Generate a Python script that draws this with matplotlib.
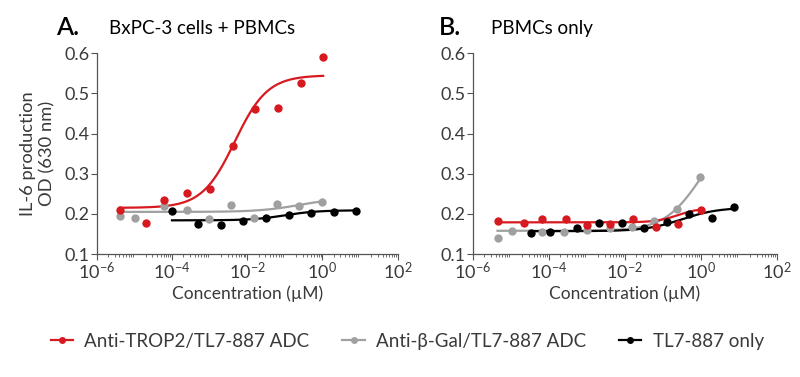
import numpy as np
import matplotlib
matplotlib.use("Agg")
import matplotlib.pyplot as plt
from matplotlib.ticker import LogLocator, FixedLocator, NullFormatter
from matplotlib.lines import Line2D

plt.rcParams['font.family'] = ['Lato', 'DejaVu Sans']
plt.rcParams['mathtext.fontset'] = 'custom'
plt.rcParams['mathtext.rm'] = 'Lato'
plt.rcParams['mathtext.it'] = 'Lato:italic'
plt.rcParams['mathtext.bf'] = 'Lato:bold'

# ---------------- data (log10 concentration in µM, OD 630 nm) ----------------
series_names = ["Anti-TROP2/TL7-887 ADC", "Anti-β-Gal/TL7-887 ADC", "TL7-887 only"]
series_colors = ["#d71920", "#a0a0a0", "#000000"]

# Panel A: BxPC-3 cells + PBMCs
a_red_logc = [-5.39, -4.70, -4.21, -3.59, -2.98, -2.37, -1.79, -1.18, -0.58, 0.02]
a_red_od = [0.209, 0.178, 0.234, 0.251, 0.262, 0.369, 0.461, 0.464, 0.525, 0.591]
a_gray_logc = [-5.39, -4.99, -4.21, -3.61, -3.02, -2.42, -1.82, -1.22, -0.62, -0.02]
a_gray_od = [0.196, 0.190, 0.220, 0.209, 0.188, 0.223, 0.190, 0.224, 0.219, 0.230]
a_black_logc = [-4.00, -3.31, -2.70, -2.10, -1.51, -0.90, -0.31, 0.30, 0.905]
a_black_od = [0.207, 0.176, 0.173, 0.182, 0.189, 0.197, 0.202, 0.204, 0.207]

# Panel B: PBMCs only
b_red_logc = [-5.35, -4.66, -4.19, -3.55, -2.99, -2.39, -1.78, -1.18, -0.59, 0.00]
b_red_od = [0.182, 0.177, 0.187, 0.188, 0.172, 0.175, 0.188, 0.168, 0.176, 0.209]
b_gray_logc = [-5.35, -4.96, -4.19, -3.60, -2.99, -2.39, -1.81, -1.23, -0.62, -0.03]
b_gray_od = [0.140, 0.158, 0.154, 0.154, 0.160, 0.166, 0.168, 0.182, 0.211, 0.292]
b_black_logc = [-4.48, -3.97, -3.27, -2.68, -2.08, -1.50, -0.90, -0.31, 0.29, 0.88]
b_black_od = [0.153, 0.154, 0.164, 0.178, 0.178, 0.165, 0.179, 0.199, 0.190, 0.217]

# 4PL fit parameters: (bottom, top, logEC50, hill)
a_red_fit = (0.215, 0.545, -2.33, 1.0)
a_gray_fit = (0.205, 0.240, -0.60, 0.8)
a_black_fit = (0.184, 0.209, -1.00, 1.0)
b_red_fit = (0.179, 0.215, -0.60, 1.5)
b_gray_fit = (0.158, 0.420, 0.00, 0.9)
b_black_fit = (0.157, 0.216, -0.50, 0.9)

panel_letters = ["A.", "B."]
panel_titles = ["BxPC-3 cells + PBMCs", "PBMCs only"]
y_ticks = [0.1, 0.2, 0.3, 0.4, 0.5, 0.6]
x_tick_exps = [-6, -4, -2, 0, 2]


def four_pl(logx, p):
    b, t, c, h = p
    return b + (t - b) / (1.0 + 10 ** ((c - logx) * h))


fig = plt.figure(figsize=(8.0, 3.77), dpi=100)
ax_a = fig.add_axes([0.121, 0.326, 0.376, 0.533])
ax_b = fig.add_axes([0.591, 0.326, 0.380, 0.533])

panels = [
    (ax_a, [(a_red_logc, a_red_od, a_red_fit), (a_gray_logc, a_gray_od, a_gray_fit),
            (a_black_logc, a_black_od, a_black_fit)]),
    (ax_b, [(b_red_logc, b_red_od, b_red_fit), (b_gray_logc, b_gray_od, b_gray_fit),
            (b_black_logc, b_black_od, b_black_fit)]),
]

spine_col = "#555555"
text_col = "#3a3a3a"

for i, (ax, ser) in enumerate(panels):
    for k in [1, 2, 0]:
        logc, od, fit = ser[k]
        xs = np.linspace(min(logc), max(logc), 200)
        ax.plot(10 ** xs, four_pl(xs, fit), color=series_colors[k], lw=1.6, zorder=2)
        ax.plot(10 ** np.array(logc), od, 'o', color=series_colors[k], ms=6, mew=0, zorder=3)
    ax.set_xscale('log')
    ax.set_xlim(1e-6, 1e2)
    ax.set_ylim(0.1, 0.6)
    ax.xaxis.set_major_locator(FixedLocator([10.0 ** e for e in x_tick_exps]))
    ax.set_xticklabels([r'10$^{\mathregular{%d}}$' % e for e in x_tick_exps])
    ax.xaxis.set_minor_locator(LogLocator(base=10, subs=np.arange(2, 10), numticks=20))
    ax.xaxis.set_minor_formatter(NullFormatter())
    ax.set_yticks(y_ticks)
    ax.set_yticklabels([f"{v:.1f}" for v in y_ticks])
    for s in ['top', 'right']:
        ax.spines[s].set_visible(False)
    for s in ['left', 'bottom']:
        ax.spines[s].set_color(spine_col)
        ax.spines[s].set_linewidth(0.9)
    ax.tick_params(axis='both', which='major', direction='out', length=4, width=0.8,
                   color=spine_col, labelsize=13, labelcolor=text_col, pad=1)
    ax.tick_params(axis='x', which='minor', direction='out', length=2.5, width=0.6, color=spine_col)
    ax.set_xlabel("Concentration (µM)", fontsize=12.5, color=text_col, labelpad=2)
    ax.text(-0.135 if i == 0 else -0.113, 1.07, panel_letters[i], transform=ax.transAxes,
            fontsize=18, fontweight='semibold', color='black', va='bottom')
    ax.text(0.04 if i == 0 else 0.06, 1.08, panel_titles[i], transform=ax.transAxes,
            fontsize=13.5, color='black', va='bottom')

ax_a.set_ylabel("IL-6 production\nOD (630 nm)", fontsize=13.2, color=text_col, labelpad=7,
                linespacing=1.25)

handles = [Line2D([], [], color=c, lw=1.6, marker='o', ms=5, mew=0) for c in series_colors]
fig.legend(handles, series_names, loc='center', bbox_to_anchor=(0.509, 0.095), ncol=3,
           frameon=False, fontsize=13.5, handlelength=1.2, handletextpad=0.6,
           columnspacing=1.75, labelcolor=text_col)

fig.savefig("out.png", dpi=100)
